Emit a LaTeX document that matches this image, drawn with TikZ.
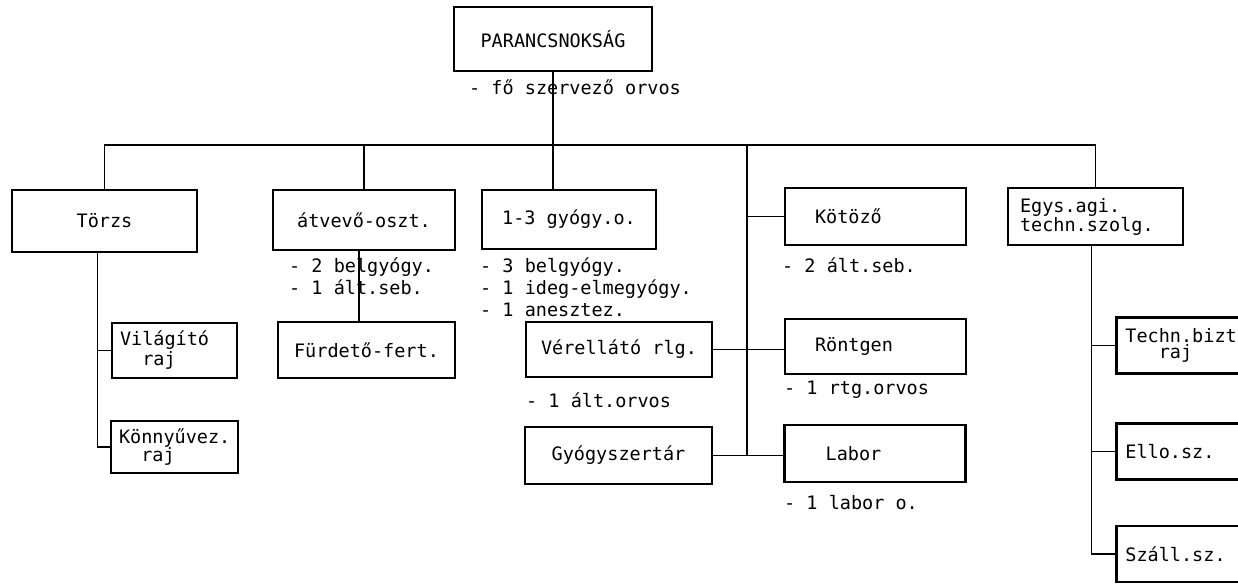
\documentclass[tikz,border=0pt]{standalone}
\usepackage{fontspec}
\setmainfont{DejaVu Sans Mono}
\usetikzlibrary{positioning}
\tikzstyle{unit} = [rectangle, draw=black, line width=2.8pt, minimum height=57pt, inner sep=0pt, align=center]
\tikzstyle{leftunit} = [unit, align=left, inner xsep=30pt]
\tikzstyle{cutunit} = [leftunit, anchor=west, inner xsep=9pt, text width=132pt, minimum height=56pt]
\tikzstyle{note} = [anchor=base west, inner sep=0pt, align=left]
\tikzstyle{link} = [line width=1.4pt]

\begin{document}
\begin{tikzpicture}[x=1pt, y=-1pt, font=\fontsize{18.5}{22}\selectfont]
\useasboundingbox (0,0) rectangle (1238,583);

\node (top) [unit, minimum width=198pt, minimum height=64pt] at (553,39) {PARANCSNOKSÁG};
\node (topnote) [note] at (469,95) {- fő szervező orvos};

% first row
\node (torzs) [unit, minimum width=185pt, minimum height=62pt] at (104.5,221) {Törzs};
\node (atvevo) [unit, minimum width=182pt, minimum height=60pt] at (364,220) {átvevő-oszt.};
\node (gyogy) [unit, minimum width=174pt, minimum height=59pt] at (569,219.5) {1-3 gyógy.o.};
\node (kotozo) [leftunit, text width=121pt] at (875.5,216.5) {Kötöző};
\node (egys) [leftunit, inner xsep=12pt, text width=151pt] at (1095.5,216.5) {Egys.agi.\\[-3pt]techn.szolg.};

% base of a note is its last line
\node (atvnote) [note] at (289,294) {- 2 belgyógy.\\- 1 ált.seb.};
\node (gyognote) [note] at (480,316) {- 3 belgyógy.\\- 1 ideg-elmegyógy.\\- 1 anesztez.};
\node (kotnote) [note] at (782,272) {- 2 ált.seb.};

% lower boxes
\node (vilagito) [leftunit, inner xsep=8pt, text width=109pt, minimum height=55pt] at (174.5,350.5) {Világító\\[-2pt]\phantom{Vi}raj};
\node (konnyu) [leftunit, inner xsep=8pt, text width=111pt, minimum height=52pt] at (174.5,447) {Könnyűvez.\\[-4pt]\phantom{Kö}raj};
\node (furdeto) [unit, minimum width=177pt, minimum height=56pt] at (366.5,350) {Fürdető-fert.};
\node (verell) [unit, minimum width=186pt, minimum height=55pt] at (619,349.5) {Vérellátó rlg.};
\node (gyszer) [unit, minimum width=187pt, minimum height=57pt] at (618.5,455.5) {Gyógyszertár};
\node (rontgen) [leftunit, text width=121pt, minimum height=55pt] at (875.5,346.5) {Röntgen};
\node (labor) [leftunit, text width=121pt] at (875,453.5) {\phantom{R}Labor};
\node (techn) [cutunit] at (1115,345.5) {Techn.bizt\\[-6pt]\phantom{Tec}raj};
\node (ello) [cutunit] at (1115,451.5) {Ello.sz.};
\node (szall) [cutunit] at (1115,554) {Száll.sz.};

\node (vernote) [note] at (526,407) {- 1 ált.orvos};
\node (rtgnote) [note] at (784,394) {- 1 rtg.orvos};
\node (labnote) [note] at (784,509) {- 1 labor o.};

% connectors
\coordinate (bus) at (0,145);
\coordinate (trunk) at (747,145);
\coordinate (tzs) at ([xshift=-7pt]torzs.south);
\coordinate (avs) at ([xshift=-5pt]atvevo.south);
\coordinate (egs) at ([xshift=-4pt]egys.south);

\draw [link] (torzs.north) |- (bus -| egys.north) -- (egys.north);
\draw [link] (top.south) -- (top.south |- gyogy.north);
\draw [link] (atvevo.north) -- (atvevo.north |- bus);
\draw [link] (trunk) -- (trunk |- gyszer.east);
\draw [link] (trunk |- kotozo.west) -- (kotozo.west);
\draw [link] (verell.east) -- (verell.east -| rontgen.west);
\draw [link] (gyszer.east) -- (gyszer.east -| labor.west);
\draw [link] (tzs) |- (konnyu.west);
\draw [link] (tzs |- vilagito.west) -- (vilagito.west);
\draw [link] (avs) -- (avs |- furdeto.north);
\draw [link] (egs) |- (szall.west);
\draw [link] (egs |- techn.west) -- (techn.west);
\draw [link] (egs |- ello.west) -- (ello.west);

\end{tikzpicture}
\end{document}
